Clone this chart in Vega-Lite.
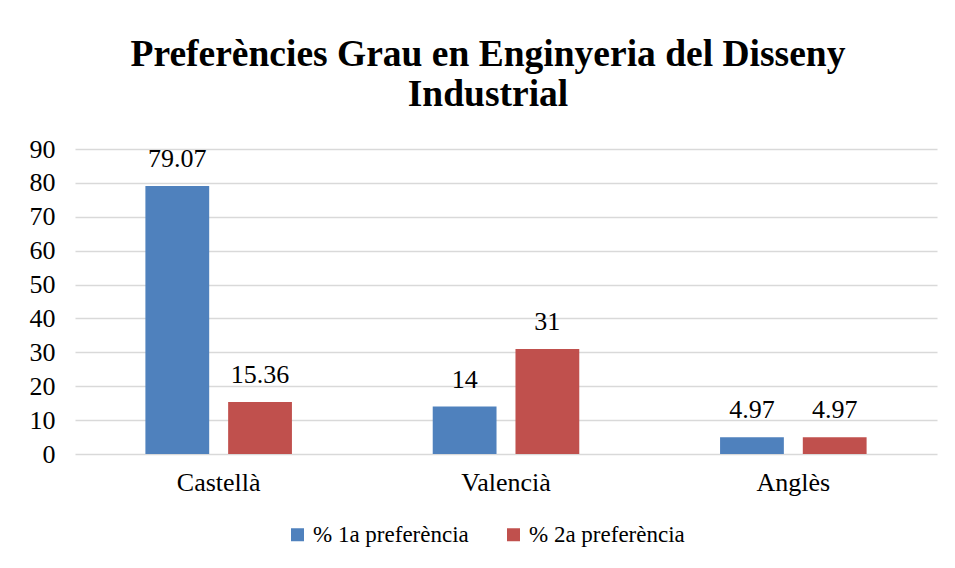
{
  "$schema": "https://vega.github.io/schema/vega-lite/v6.json",
  "autosize": "none",
  "padding": {"left": 75, "top": 149, "right": 18, "bottom": 114},
  "width": 862,
  "height": 305,
  "background": "white",
  "title": {
    "text": ["Preferències Grau en Enginyeria del Disseny", "Industrial"],
    "font": "Liberation Serif",
    "fontSize": 37.5,
    "fontWeight": "bold",
    "color": "#000000",
    "anchor": "middle",
    "dx": -18,
    "offset": 23,
    "lineHeight": 40
  },
  "data": {
    "values": [
      {"idioma": "Castellà", "serie": "% 1a preferència", "valor": 79.07},
      {"idioma": "Castellà", "serie": "% 2a preferència", "valor": 15.36},
      {"idioma": "Valencià", "serie": "% 1a preferència", "valor": 14},
      {"idioma": "Valencià", "serie": "% 2a preferència", "valor": 31},
      {"idioma": "Anglès", "serie": "% 1a preferència", "valor": 4.97},
      {"idioma": "Anglès", "serie": "% 2a preferència", "valor": 4.97}
    ]
  },
  "encoding": {
    "x": {
      "field": "idioma",
      "type": "nominal",
      "sort": ["Castellà", "Valencià", "Anglès"],
      "scale": {"paddingInner": 0.49, "paddingOuter": 0.245},
      "axis": {
        "title": null,
        "labelAngle": 0,
        "domain": false,
        "ticks": false,
        "labelFont": "Liberation Serif",
        "labelFontSize": 26,
        "labelColor": "#000000",
        "labelPadding": 15
      }
    },
    "xOffset": {
      "field": "serie",
      "type": "nominal",
      "scale": {"paddingInner": 0.229, "paddingOuter": 0}
    },
    "y": {
      "field": "valor",
      "type": "quantitative",
      "scale": {"domain": [0, 90], "nice": false},
      "axis": {
        "title": null,
        "values": [0, 10, 20, 30, 40, 50, 60, 70, 80, 90],
        "domain": false,
        "ticks": false,
        "grid": true,
        "gridColor": "#d9d9d9",
        "gridWidth": 1.5,
        "labelFont": "Liberation Serif",
        "labelFontSize": 26,
        "labelColor": "#000000",
        "labelPadding": 20
      }
    }
  },
  "layer": [
    {
      "mark": {"type": "bar"},
      "encoding": {
        "color": {
          "field": "serie",
          "type": "nominal",
          "scale": {
            "domain": ["% 1a preferència", "% 2a preferència"],
            "range": ["#4f81bd", "#c0504d"]
          },
          "legend": {
            "title": null,
            "orient": "none",
            "direction": "horizontal",
            "legendX": 211,
            "legendY": 374,
            "symbolType": "square",
            "symbolSize": 169,
            "symbolStrokeWidth": 0,
            "labelFont": "Liberation Serif",
            "labelFontSize": 23,
            "labelColor": "#000000",
            "labelLimit": 0,
            "labelOffset": 4,
            "columnPadding": 33
          }
        }
      }
    },
    {
      "mark": {
        "type": "text",
        "baseline": "alphabetic",
        "dy": -19,
        "font": "Liberation Serif",
        "fontSize": 26,
        "color": "#000000"
      },
      "encoding": {
        "text": {"field": "valor", "type": "quantitative"}
      }
    }
  ],
  "config": {
    "view": {"stroke": null}
  }
}
